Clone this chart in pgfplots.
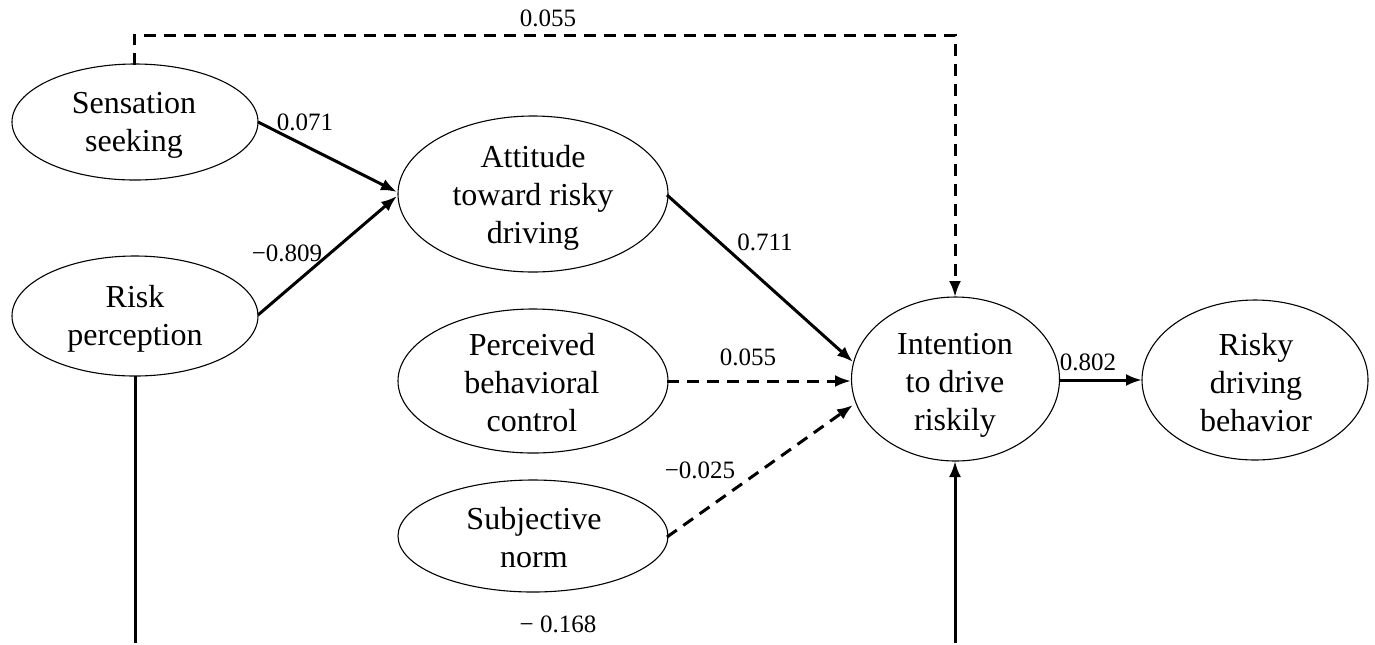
\documentclass[border=0pt]{standalone}
\usepackage{fontspec}
\setmainfont{Liberation Serif}
\usepackage{pgfplots}
\pgfplotsset{compat=1.18}
\usetikzlibrary{arrows.meta}
\begin{document}
\begin{tikzpicture}
\tikzset{
  arr/.style={line width=1.5pt, -{Latex[length=8pt,width=6pt]}},
  plain/.style={line width=1.5pt},
  dsh/.style={dash pattern=on 6pt off 4pt},
  ell/.style={line width=0.55pt},
  box/.style={align=center, inner sep=0pt, font=\fontsize{16}{19}\selectfont},
  lbl/.style={inner sep=0pt, font=\fontsize{12.5}{14}\selectfont},
}
\begin{axis}[x=0.5pt, y=0.5pt, y dir=reverse,
  xmin=0, xmax=1375, ymin=0, ymax=643,
  axis lines=none, clip=false]
\path (rel axis cs:0,0) rectangle (rel axis cs:1,1);

% ellipses
\draw[ell] (axis cs:135,122) ellipse [x radius=61.5pt, y radius=29pt];
\draw[ell] (axis cs:135,316) ellipse [x radius=61.5pt, y radius=30pt];
\draw[ell] (axis cs:533,194) ellipse [x radius=67.5pt, y radius=39pt];
\draw[ell] (axis cs:533,381) ellipse [x radius=67.5pt, y radius=36pt];
\draw[ell] (axis cs:533,536) ellipse [x radius=67.5pt, y radius=28pt];
\draw[ell] (axis cs:955.5,379) ellipse [x radius=52pt, y radius=41pt];
\draw[ell] (axis cs:1255,380) ellipse [x radius=56.5pt, y radius=40pt];

% texts
\node[box] at (axis cs:134,125) {Sensation\\seeking};
\node[box] at (axis cs:135,319) {Risk\\perception};
\node[box] at (axis cs:533,198) {Attitude\\toward risky\\driving};
\node[box] at (axis cs:532,383) {Perceived\\behavioral\\control};
\node[box] at (axis cs:534,538) {Subjective\\norm};
\node[box] at (axis cs:955,385) {Intention\\to drive\\riskily};
\node[box] at (axis cs:1256,383) {Risky\\driving\\behavior};

% paths
\addplot[arr, dsh] coordinates {(134,65) (134,35) (955,35) (955,297)};
\addplot[arr] coordinates {(258,122) (397,192)};
\addplot[arr] coordinates {(258,315) (397,196)};
\addplot[arr] coordinates {(667,195) (853,362)};
\addplot[arr, dsh] coordinates {(667,381) (851,381)};
\addplot[arr, dsh] coordinates {(667,537) (853,405)};
\addplot[arr] coordinates {(1059,380) (1142,380)};
\addplot[plain] coordinates {(135,376) (135,643)};
\addplot[arr] coordinates {(955,643) (955,461)};

% labels
\node[lbl] at (axis cs:548,18) {0.055};
\node[lbl] at (axis cs:305,122) {0.071};
\node[lbl] at (axis cs:287,253) {−0.809};
\node[lbl] at (axis cs:765,242) {0.711};
\node[lbl] at (axis cs:748,357) {0.055};
\node[lbl] at (axis cs:700,470) {−0.025};
\node[lbl] at (axis cs:1088,362) {0.802};
\node[lbl] at (axis cs:558,624) {− 0.168};
\end{axis}
\end{tikzpicture}
\end{document}
